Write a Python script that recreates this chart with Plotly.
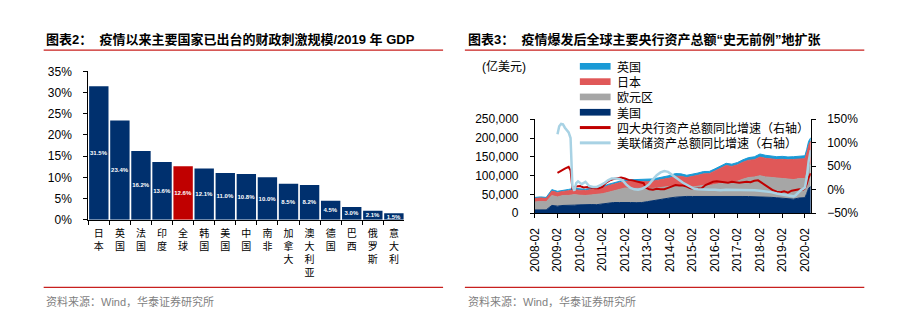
import plotly.graph_objects as go

# ---------------- 图表2：财政刺激规模 / 2019 年 GDP ----------------
countries = ["日本", "英国", "法国", "印度", "全球", "韩国", "美国", "中国",
             "南非", "加拿大", "澳大利亚", "德国", "巴西", "俄罗斯", "意大利"]
stimulus_pct = [31.5, 23.4, 16.2, 13.6, 12.6, 12.1, 11.0, 10.8,
                10.0, 8.5, 8.2, 4.5, 3.0, 2.1, 1.5]
highlight = "全球"
pct_ticks = [0, 5, 10, 15, 20, 25, 30, 35]

# ---------------- 图表3：主要央行资产总额（亿美元） ----------------
area_dates = ["2008-02", "2008-05", "2008-08", "2008-11",
              "2009-02", "2009-05", "2009-08", "2009-11",
              "2010-02", "2010-05", "2010-08", "2010-11",
              "2011-02", "2011-05", "2011-08", "2011-11",
              "2012-02", "2012-05", "2012-08", "2012-11",
              "2013-02", "2013-05", "2013-08", "2013-11",
              "2014-02", "2014-05", "2014-08", "2014-11",
              "2015-02", "2015-05", "2015-08", "2015-11",
              "2016-02", "2016-05", "2016-08", "2016-11",
              "2017-02", "2017-05", "2017-08", "2017-11",
              "2018-02", "2018-05", "2018-08", "2018-11",
              "2019-02", "2019-05", "2019-08", "2019-11",
              "2020-02", "2020-03", "2020-04", "2020-05-06"]
us_assets = [8900, 8900, 9000, 21000,
             19000, 20800, 20500, 21600,
             22500, 23300, 23200, 22900,
             25500, 27500, 28600, 28600,
             29200, 28600, 28300, 28500,
             31000, 33800, 36200, 38600,
             40800, 42800, 44100, 44800,
             44700, 44900, 44900, 44800,
             44900, 44700, 44600, 44500,
             44700, 44700, 44500, 44400,
             43800, 43200, 42400, 41300,
             40000, 39200, 37600, 40700,
             41600, 53000, 66700, 71000]
euro_assets = [21000, 22500, 21500, 26000,
               24500, 26500, 27000, 28000,
               25500, 24000, 25500, 27000,
               26500, 28000, 30500, 34000,
               38000, 37500, 37500, 38000,
               35500, 32500, 31500, 31000,
               30500, 31000, 27500, 25500,
               25000, 27000, 29500, 29000,
               32000, 35500, 37500, 38500,
               40500, 46000, 50500, 52000,
               56000, 53500, 53000, 52500,
               53000, 52000, 52000, 51500,
               50500, 53500, 58000, 61000]
japan_assets = [10500, 10500, 10000, 12000,
                12000, 11500, 12500, 13000,
                13500, 13000, 14500, 15000,
                15000, 17500, 18500, 18500,
                17500, 18000, 18500, 18000,
                17500, 19000, 20500, 21000,
                22500, 25000, 26500, 24500,
                27500, 29000, 30500, 31500,
                35500, 39500, 45000, 41500,
                43500, 45000, 46000, 46000,
                49500, 49500, 49000, 49000,
                50500, 51000, 53500, 52500,
                53000, 55000, 57500, 59500]
uk_assets = [1700, 1700, 1700, 3900,
             2900, 3000, 3500, 3800,
             3700, 3500, 3700, 3900,
             3900, 3800, 3800, 3800,
             4300, 5000, 5600, 6200,
             6000, 6000, 6100, 6300,
             6700, 6800, 6700, 6300,
             6200, 6100, 6200, 6000,
             5700, 5700, 5800, 6100,
             6300, 6600, 7000, 7700,
             8300, 8000, 7700, 7600,
             7800, 7600, 7300, 7900,
             7800, 8300, 9200, 9500]

# 四大央行资产总额同比增速（%）
big4_dates = ["2009-02", "2009-04", "2009-06", "2009-08", "2009-09", "2009-10", "2009-12",
              "2010-02", "2010-04", "2010-06", "2010-08", "2010-10", "2010-12",
              "2011-02", "2011-04", "2011-06", "2011-08", "2011-10", "2011-12",
              "2012-02", "2012-04", "2012-06", "2012-08", "2012-10", "2012-12",
              "2013-01", "2013-03", "2013-05", "2013-07", "2013-09", "2013-11",
              "2014-01", "2014-03", "2014-05", "2014-07", "2014-09", "2014-11",
              "2015-01", "2015-03", "2015-05", "2015-07", "2015-09", "2015-11",
              "2016-01", "2016-03", "2016-05", "2016-07", "2016-09", "2016-11",
              "2017-01", "2017-03", "2017-05", "2017-07", "2017-09", "2017-11",
              "2018-01", "2018-03", "2018-05", "2018-07", "2018-09", "2018-11",
              "2019-01", "2019-03", "2019-05", "2019-07", "2019-09", "2019-11",
              "2020-01", "2020-02", "2020-03", "2020-04", "2020-05-06"]
big4_yoy = [36, 41, 45, 49, 41, 3, 7,
            8, 5, 6, 4, 3, 3,
            6, 15, 20, 23, 25, 26,
            24, 21, 20, 18, 17, 14,
            5, 1, 0, 2, 1, 1,
            4, 7, 10, 9, 9, 7,
            3, 2, 2, 3, 10, 14,
            17, 18, 17, 16, 15, 17,
            16, 15, 16, 17, 16, 19,
            20, 15, 9, 3, -1, -4,
            -5, -3, -6, -2, 0, 1,
            0, 3, 12, 26, 35]

# 美联储资产总额同比增速（%）
fed_dates = ["2009-02", "2009-03", "2009-04", "2009-05", "2009-06", "2009-07", "2009-08",
             "2009-09", "2009-10", "2009-11", "2009-12",
             "2010-01", "2010-03", "2010-05", "2010-07", "2010-09", "2010-11",
             "2011-01", "2011-03", "2011-05", "2011-07", "2011-09", "2011-11",
             "2012-01", "2012-03", "2012-05", "2012-07", "2012-09", "2012-11",
             "2013-01", "2013-03", "2013-05", "2013-07", "2013-09", "2013-11",
             "2014-01", "2014-03", "2014-05", "2014-07", "2014-09", "2014-11",
             "2015-01", "2015-03", "2015-05", "2015-08", "2015-11",
             "2016-02", "2016-05", "2016-08", "2016-11",
             "2017-02", "2017-05", "2017-08", "2017-11",
             "2018-02", "2018-05", "2018-08", "2018-11",
             "2019-02", "2019-05", "2019-08", "2019-09", "2019-10", "2019-11", "2019-12",
             "2020-01", "2020-02", "2020-03", "2020-04", "2020-05-06"]
fed_yoy = [118, 135, 140, 139, 132, 128, 122,
           110, 8, -2, 14,
           18, 12, 17, 8, 6, 6,
           10, 14, 20, 24, 24, 23,
           19, 10, 4, 1, 0, 2,
           6, 12, 22, 31, 37, 40,
           38, 33, 27, 21, 15, 10,
           5, 2, 1, 0, 0,
           0, -1, 0, 0,
           0, 0, -1, -1,
           -2, -3, -5, -8,
           -10, -12, -14, -12, -8, -4, 0,
           2, 5, 25, 60, 84]

year_ticks = ["2008-02", "2009-02", "2010-02", "2011-02", "2012-02", "2013-02", "2014-02",
              "2015-02", "2016-02", "2017-02", "2018-02", "2019-02", "2020-02"]

# ---------------- colours & fonts ----------------
NAVY = "#00306e"
RED_BAR = "#c00000"
GRAY = "#a6a6a6"
SALMON = "#e05858"
SKY = "#1a9ad6"
LINE_RED = "#c00000"
LINE_BLUE = "#a8d2e4"
RULE = "#c8201e"
SANS = "Liberation Sans, Noto Sans CJK SC, sans-serif"
CJK = "Noto Sans CJK SC, sans-serif"

W, H = 898, 324


def px(x):
    return x / W


def py(y):
    return 1 - y / H


fig = go.Figure()

# ---- bar chart ----
bar_colors = [RED_BAR if c == highlight else NAVY for c in countries]
fig.add_trace(go.Bar(
    x=countries, y=stimulus_pct,
    marker=dict(color=bar_colors, line=dict(width=0)),
    text=[f"{v:.1f}%" for v in stimulus_pct],
    textposition="inside", insidetextanchor="middle", textangle=0,
    constraintext="none",
    textfont=dict(color="white", size=6, family="Liberation Sans", weight="bold"),
    xaxis="x", yaxis="y", showlegend=False, hoverinfo="skip",
))

# ---- stacked central bank assets ----
area_series = [("美国", us_assets, NAVY), ("欧元区", euro_assets, GRAY),
               ("日本", japan_assets, SALMON), ("英国", uk_assets, SKY)]
for name, vals, col in area_series:
    fig.add_trace(go.Scatter(
        x=area_dates, y=vals, name=name, mode="lines", stackgroup="cb",
        line=dict(color=col, width=1), fillcolor=col,
        xaxis="x2", yaxis="y2", showlegend=False, hoverinfo="skip",
    ))

fig.add_trace(go.Scatter(
    x=big4_dates, y=big4_yoy, name="四大央行资产总额同比增速（右轴）", mode="lines",
    line=dict(color=LINE_RED, width=2), xaxis="x2", yaxis="y3",
    showlegend=False, hoverinfo="skip",
))
fig.add_trace(go.Scatter(
    x=fed_dates, y=fed_yoy, name="美联储资产总额同比增速（右轴）", mode="lines",
    line=dict(color=LINE_BLUE, width=2.5), xaxis="x2", yaxis="y3",
    showlegend=False, hoverinfo="skip",
))

axis_common = dict(showline=True, linecolor="black", linewidth=1, ticks="outside",
                   ticklen=4, tickcolor="black", showgrid=False, zeroline=False,
                   tickfont=dict(family=SANS, size=12, color="black"))

fig.update_layout(
    width=W, height=H, margin=dict(l=0, r=0, t=0, b=0),
    paper_bgcolor="white", plot_bgcolor="white",
    font=dict(family=SANS, size=12, color="black"),
    bargap=0.08,
    xaxis=dict(axis_common, domain=[px(82), px(401)], anchor="y",
               range=[-0.5, len(countries) - 0.5], tickson="boundaries",
               tickvals=countries, ticktext=["<br>".join(c) for c in countries],
               tickfont=dict(family=CJK, size=10, color="black"),
               ticklabelstandoff=4),
    yaxis=dict(axis_common, domain=[py(222.3), py(67.3)], anchor="x",
               range=[0, 35], tickvals=pct_ticks,
               ticktext=[f"{v}%" for v in pct_ticks],
               ticklabelstandoff=9),
    xaxis2=dict(axis_common, domain=[px(532.7), px(811)], anchor="y2", type="date",
                range=["2008-02-01", "2020-05-06"],
                tickvals=year_ticks, ticktext=year_ticks, tickangle=-90,
                ticklabelstandoff=5),
    yaxis2=dict(axis_common, domain=[py(215.6), py(117.3)], anchor="x2",
                range=[0, 250000], dtick=50000, tickformat=",",
                ticklabelstandoff=9),
    yaxis3=dict(axis_common, overlaying="y2", side="right", anchor="x2",
                range=[-50, 150], dtick=50, ticksuffix="%",
                ticklabelstandoff=9),
)

shapes = []
annotations = []

# header / footer rules
for x0, x1 in [(37, 440), (462, 865)]:
    for y in (45, 293):
        shapes.append(dict(type="line", xref="paper", yref="paper",
                           x0=px(x0), x1=px(x1), y0=py(y), y1=py(y),
                           line=dict(color=RULE, width=1.2)))

annotations.append(dict(
    text="图表2：  疫情以来主要国家已出台的财政刺激规模/2019 年 GDP",
    x=px(37), y=py(34), xref="paper", yref="paper", xanchor="left", yanchor="middle",
    showarrow=False, font=dict(family=SANS, size=13, color="black", weight="bold")))
annotations.append(dict(
    text="图表3：  疫情爆发后全球主要央行资产总额“史无前例”地扩张",
    x=px(463), y=py(34), xref="paper", yref="paper", xanchor="left", yanchor="middle",
    showarrow=False, font=dict(family=SANS, size=13, color="black", weight="bold")))
for x in (37, 463):
    annotations.append(dict(
        text="资料来源：Wind，华泰证券研究所",
        x=px(x), y=py(308), xref="paper", yref="paper", xanchor="left", yanchor="middle",
        showarrow=False, font=dict(family=SANS, size=11, color="#7f7f7f")))

annotations.append(dict(
    text="(亿美元)", x=px(477), y=py(62), xref="paper", yref="paper",
    xanchor="left", yanchor="middle", showarrow=False,
    font=dict(family=SANS, size=12, color="black")))

# legend rows
legend_rows = [("英国", SKY, "area"), ("日本", SALMON, "area"), ("欧元区", GRAY, "area"),
               ("美国", NAVY, "area"),
               ("四大央行资产总额同比增速（右轴）", LINE_RED, "line"),
               ("美联储资产总额同比增速（右轴）", LINE_BLUE, "line")]
for i, (label, col, kind) in enumerate(legend_rows):
    yc = 62 + i * 16
    if kind == "area":
        shapes.append(dict(type="rect", xref="paper", yref="paper",
                           x0=px(578), x1=px(609), y0=py(yc + 3.5), y1=py(yc - 3.5),
                           fillcolor=col, line=dict(width=0)))
    else:
        shapes.append(dict(type="line", xref="paper", yref="paper",
                           x0=px(578), x1=px(609), y0=py(yc), y1=py(yc),
                           line=dict(color=col, width=3)))
    annotations.append(dict(
        text=label, x=px(613), y=py(yc), xref="paper", yref="paper",
        xanchor="left", yanchor="middle", showarrow=False,
        font=dict(family=CJK, size=12, color="black")))

fig.update_layout(shapes=shapes, annotations=annotations)

fig.write_html("out.html")
